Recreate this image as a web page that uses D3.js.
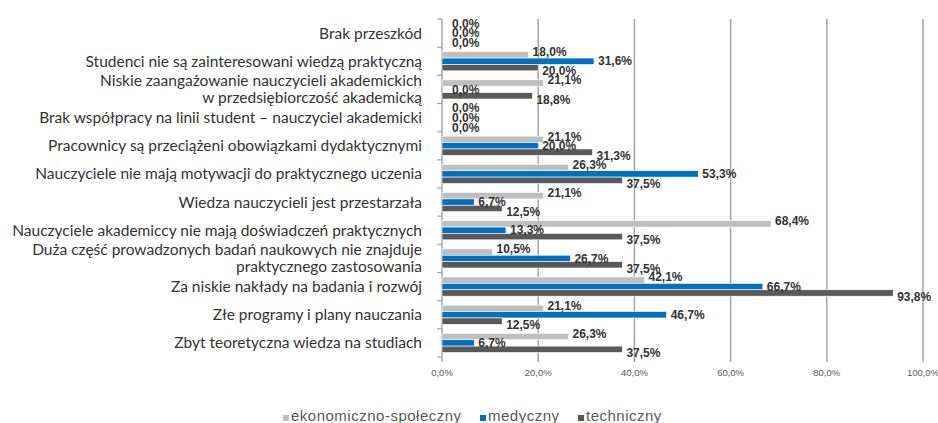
<!DOCTYPE html>
<html>
<head>
<meta charset="utf-8">
<script src="https://cdn.jsdelivr.net/npm/d3@7"></script>
<style>
  body { margin: 0; background: #fff; }
</style>
</head>
<body>
<svg width="938" height="423"></svg>
<script>
// categories, top to bottom ("\n" = line break in the label)
const categories = [
  "Brak przeszkód",
  "Studenci nie są zainteresowani wiedzą praktyczną",
  "Niskie zaangażowanie nauczycieli akademickich\nw przedsiębiorczość akademicką",
  "Brak współpracy na linii student – nauczyciel akademicki",
  "Pracownicy są przeciążeni obowiązkami dydaktycznymi",
  "Nauczyciele nie mają motywacji do praktycznego uczenia",
  "Wiedza nauczycieli jest przestarzała",
  "Nauczyciele akademiccy nie mają doświadczeń praktycznych",
  "Duża część prowadzonych badań naukowych nie znajduje\npraktycznego zastosowania",
  "Za niskie nakłady na badania i rozwój",
  "Złe programy i plany nauczania",
  "Zbyt teoretyczna wiedza na studiach"
]

const seriesNames = ["ekonomiczno-społeczny", "medyczny", "techniczny"]

const ekonomiczno = [0.0, 18.0, 21.1, 0.0, 21.1, 26.3, 21.1, 68.4, 10.5, 42.1, 21.1, 26.3]
const medyczny    = [0.0, 31.6, 0.0, 0.0, 20.0, 53.3, 6.7, 13.3, 26.7, 66.7, 46.7, 6.7]
const techniczny  = [0.0, 20.0, 18.8, 0.0, 31.3, 37.5, 12.5, 37.5, 37.5, 93.8, 12.5, 37.5]

const xTicks = [0, 20, 40, 60, 80, 100]

const colors = ["#bfbfbf", "#0070c0", "#595959"]

const seriesValues = [ekonomiczno, medyczny, techniczny]
const rows = []
categories.forEach((c, i) => {
  seriesNames.forEach((s, j) => {
    rows.push({cat: c, series: s, idx: j, value: seriesValues[j][i]})
  })
})

const svg = d3.select("svg")

const x = d3.scaleLinear().domain([0, 100]).range([442, 923])
const y = d3.scaleBand().domain(categories).range([19, 357])
  .paddingInner(0.32).paddingOuter(0.16)
const y1 = d3.scaleBand().domain(seriesNames).range([0, y.bandwidth()])

const fmt = v => d3.format(".1f")(v).replace(".", ",") + "%"

// vertical gridlines + bottom tick marks
svg.append("g").selectAll("line")
  .data(xTicks)
  .enter().append("line")
  .attr("x1", d => x(d)).attr("x2", d => x(d))
  .attr("y1", 19).attr("y2", 362)
  .attr("stroke", "#a6a6a6")
  .attr("stroke-width", 1.5)

// left axis ticks at category boundaries
const step = y.step()
const bounds = categories.map(c => y(c) - step * 0.16).concat([y(categories[categories.length - 1]) + y.bandwidth() + step * 0.16])
svg.append("g").selectAll("line")
  .data(bounds)
  .enter().append("line")
  .attr("x1", x(0) - 5).attr("x2", x(0))
  .attr("y1", d => d).attr("y2", d => d)
  .attr("stroke", "#a6a6a6")
  .attr("stroke-width", 1.2)

// x tick labels
svg.append("g").selectAll("text")
  .data(xTicks)
  .enter().append("text")
  .attr("x", d => x(d))
  .attr("y", 376)
  .attr("text-anchor", "middle")
  .style("font-family", "Liberation Sans, sans-serif")
  .style("font-size", "9.5px")
  .style("fill", "#595959")
  .text(d => fmt(d))

// bars
svg.append("g").selectAll("rect")
  .data(rows)
  .enter().append("rect")
  .attr("x", x(0))
  .attr("y", d => y(d.cat) + y1(d.series))
  .attr("width", d => x(d.value) - x(0))
  .attr("height", y1.bandwidth())
  .attr("fill", d => colors[d.idx])
  .attr("stroke", "#fff")
  .attr("stroke-width", 0.6)

// value labels
const labelShift = [-3, 0, 3.5]
svg.append("g").selectAll("text")
  .data(rows)
  .enter().append("text")
  .attr("x", d => x(d.value) + (d.value === 0 ? 10 : 4))
  .attr("y", d => y(d.cat) + y1(d.series) + y1.bandwidth() / 2 + labelShift[d.idx])
  .attr("dy", "0.35em")
  .style("font-family", "Liberation Sans, sans-serif")
  .style("font-size", "12px")
  .style("font-weight", "bold")
  .style("fill", "#333")
  .text(d => fmt(d.value))

// category labels
const catLabels = svg.append("g").selectAll("text")
  .data(categories)
  .enter().append("text")
  .attr("text-anchor", "end")
  .style("font-family", "Lato, sans-serif")
  .style("font-size", "15.5px")
  .style("fill", "#333")

catLabels.each(function(d) {
  const lines = d.split("\n")
  const cy = y(d) + y.bandwidth() / 2
  const lh = 17
  lines.forEach((ln, i) => {
    d3.select(this).append("tspan")
      .attr("x", 422)
      .attr("y", cy + (i - (lines.length - 1) / 2) * lh)
      .attr("dy", "0.35em")
      .text(ln)
  })
})

// legend
const legendX = [283, 480, 578]
const legend = svg.append("g").selectAll("g")
  .data(seriesNames)
  .enter().append("g")
  .attr("transform", (d, i) => "translate(" + legendX[i] + ",421)")

legend.append("rect")
  .attr("x", 0).attr("y", -6)
  .attr("width", 6).attr("height", 6)
  .attr("fill", (d, i) => colors[i])

legend.append("text")
  .attr("x", 8)
  .attr("y", 0)
  .style("font-family", "Liberation Sans, sans-serif")
  .style("font-size", "15px")
  .style("letter-spacing", "0.5px")
  .style("fill", "#595959")
  .text(d => d)
</script>
</body>
</html>
